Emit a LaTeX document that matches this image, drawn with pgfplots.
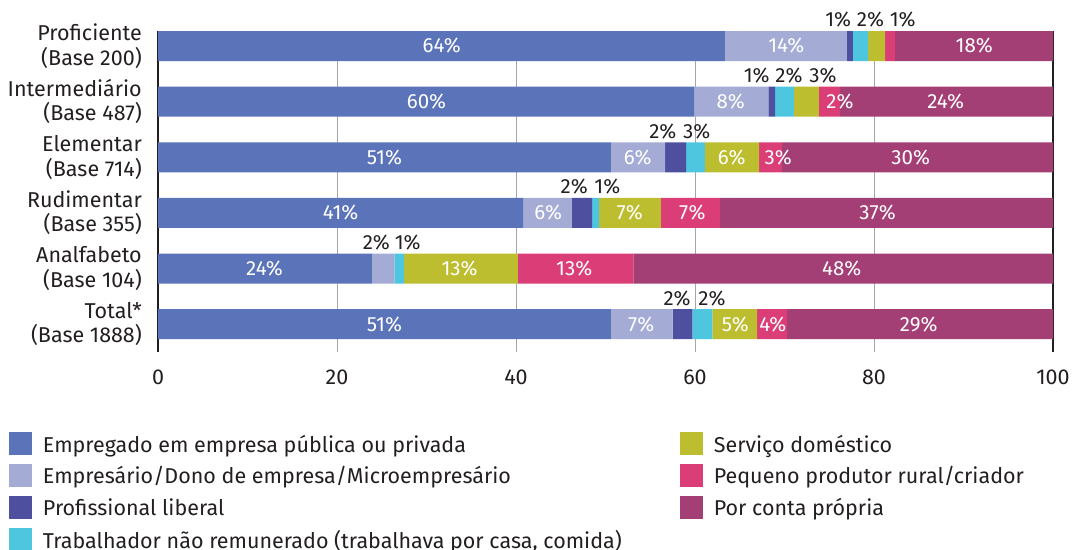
\documentclass[border=0pt]{standalone}
\usepackage{fontspec}
\setmainfont{Fira Sans}
\usepackage{pgfplots}
\pgfplotsset{compat=1.18}
\usepackage{pgfplotstable}
\definecolor{cEmp}{HTML}{5B73B8}
\definecolor{cEmpr}{HTML}{A4ACD6}
\definecolor{cProf}{HTML}{4F4FA0}
\definecolor{cTrab}{HTML}{4EC6E0}
\definecolor{cServ}{HTML}{BDBD30}
\definecolor{cPeq}{HTML}{DB3D77}
\definecolor{cConta}{HTML}{A33F74}
\definecolor{txt}{HTML}{231F20}
\pgfplotstableread{
y emp empr prof trab serv peq conta
5 63.35 13.63 0.67 1.68 1.90 1.12 17.65
4 59.90 8.30 0.74 2.12 2.79 2.35 23.80
3 50.60 6.05 2.35 2.10 6.05 2.55 30.30
2 40.80 5.45 2.25 0.80 6.90 6.60 37.20
1 23.90 2.50 0.00 1.10 12.70 12.90 46.90
0 50.60 6.90 2.20 2.25 5.00 3.35 29.70
}\datatable
\pgfplotsset{samebox/.style={at={(158pt,197pt)}, anchor=south west,
  scale only axis, width=895pt, height=321pt,
  xmin=0, xmax=100, ymin=-0.5, ymax=5.27}}
\begin{document}
\begin{tikzpicture}[
  inl/.style={text=white, font=\fontsize{20.5}{23}\selectfont, inner sep=0pt},
  abl/.style={text=txt, font=\fontsize{20.5}{23}\selectfont, inner sep=0pt},
]
\begin{axis}[
  samebox,
  xbar stacked, bar width=30pt,
  xtick={0,20,...,100}, ytick={0,...,5},
  yticklabels={{Total*\\(Base 1888)},{Analfabeto\\(Base 104)},{Rudimentar\\(Base 355)},{Elementar\\(Base 714)},{Intermediário\\(Base 487)},{Proficiente\\(Base 200)}},
  yticklabel style={align=right, font=\fontsize{21.5}{24.5}\selectfont, text=txt, inner sep=0pt, xshift=-16pt},
  xticklabel style={font=\fontsize{21.5}{24}\selectfont, text=txt, inner sep=0pt, yshift=-18pt},
  /pgf/number format/assume math mode=true,
  major tick length=0pt,
  xmajorgrids, grid style={draw=black!35, line width=1pt},
  separate axis lines,
  x axis line style={draw=none},
  y axis line style={draw=txt, line width=1.3pt},
  every axis plot/.append style={draw=none},
  legend image code/.code={\fill[#1] (0pt,-3pt) rectangle (23pt,20pt);},
  transpose legend, legend columns=4,
  legend style={draw=none, fill=none, inner sep=0pt, outer sep=0pt,
    at={(-0.1665,-0.2492)}, anchor=north west,
    font=\fontsize{21.5}{24}\selectfont, text=txt,
    nodes={inner sep=0pt, anchor=base west},
    row sep={32pt,between origins},
    column sep=11pt,
    /tikz/column 2/.style={column sep=58pt}},
]
\addplot[fill=cEmp] table[x=emp,y=y]{\datatable};
\addlegendentry{Empregado em empresa pública ou privada}
\addplot[fill=cEmpr] table[x=empr,y=y]{\datatable};
\addlegendentry{Empresário/Dono de empresa/Microempresário}
\addplot[fill=cProf] table[x=prof,y=y]{\datatable};
\addlegendentry{Profissional liberal}
\addplot[fill=cTrab] table[x=trab,y=y]{\datatable};
\addlegendentry{Trabalhador não remunerado (trabalhava por casa, comida)}
\addplot[fill=cServ] table[x=serv,y=y]{\datatable};
\addlegendentry{Serviço doméstico}
\addplot[fill=cPeq] table[x=peq,y=y]{\datatable};
\addlegendentry{Pequeno produtor rural/criador}
\addplot[fill=cConta] table[x=conta,y=y]{\datatable};
\addlegendentry{Por conta própria}
\end{axis}
\begin{axis}[samebox, hide axis, clip=false]
% inside labels
\node[inl] at (axis cs:31.7,5) {64\%};
\node[inl] at (axis cs:70.2,5) {14\%};
\node[inl] at (axis cs:91.2,5) {18\%};
\node[inl] at (axis cs:30.0,4) {60\%};
\node[inl] at (axis cs:64.0,4) {8\%};
\node[inl] at (axis cs:76.2,4) {2\%};
\node[inl] at (axis cs:88.0,4) {24\%};
\node[inl] at (axis cs:25.3,3) {51\%};
\node[inl] at (axis cs:53.6,3) {6\%};
\node[inl] at (axis cs:64.1,3) {6\%};
\node[inl] at (axis cs:69.3,3) {3\%};
\node[inl] at (axis cs:84.1,3) {30\%};
\node[inl] at (axis cs:20.4,2) {41\%};
\node[inl] at (axis cs:43.6,2) {6\%};
\node[inl] at (axis cs:52.7,2) {7\%};
\node[inl] at (axis cs:59.7,2) {7\%};
\node[inl] at (axis cs:80.4,2) {37\%};
\node[inl] at (axis cs:11.9,1) {24\%};
\node[inl] at (axis cs:33.7,1) {13\%};
\node[inl] at (axis cs:46.5,1) {13\%};
\node[inl] at (axis cs:76.4,1) {48\%};
\node[inl] at (axis cs:25.3,0) {51\%};
\node[inl] at (axis cs:54.0,0) {7\%};
\node[inl] at (axis cs:64.5,0) {5\%};
\node[inl] at (axis cs:68.7,0) {4\%};
\node[inl] at (axis cs:85.0,0) {29\%};
% labels above
\node[abl] at (axis cs:76.0,5.47) {1\%};
\node[abl] at (axis cs:79.6,5.47) {2\%};
\node[abl] at (axis cs:83.2,5.47) {1\%};
\node[abl] at (axis cs:66.9,4.47) {1\%};
\node[abl] at (axis cs:70.5,4.47) {2\%};
\node[abl] at (axis cs:74.3,4.47) {3\%};
\node[abl] at (axis cs:56.4,3.47) {2\%};
\node[abl] at (axis cs:60.2,3.47) {3\%};
\node[abl] at (axis cs:46.5,2.47) {2\%};
\node[abl] at (axis cs:50.2,2.47) {1\%};
\node[abl] at (axis cs:24.4,1.47) {2\%};
\node[abl] at (axis cs:27.9,1.47) {1\%};
\node[abl] at (axis cs:58.0,0.47) {2\%};
\node[abl] at (axis cs:61.9,0.47) {2\%};
\end{axis}
\pgfresetboundingbox
\path (0pt,0pt) rectangle (1075pt,549pt);
\end{tikzpicture}
\end{document}
